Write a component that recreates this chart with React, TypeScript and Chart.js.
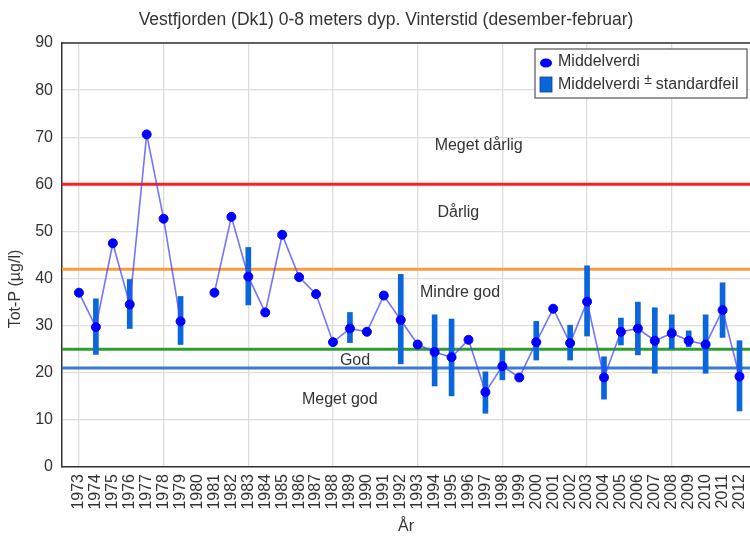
import { useEffect, useRef } from "react";
import { Chart, registerables } from "chart.js";

Chart.register(...registerables);

const FONT = "'Liberation Sans', Arial, Helvetica, sans-serif";

const chartTitle = "Vestfjorden (Dk1) 0-8 meters dyp. Vinterstid (desember-februar)";
const yTitle = "Tot-P (µg/l)";
const xTitle = "År";

const years = [
  1973, 1974, 1975, 1976, 1977, 1978, 1979, 1980, 1981, 1982,
  1983, 1984, 1985, 1986, 1987, 1988, 1989, 1990, 1991, 1992,
  1993, 1994, 1995, 1996, 1997, 1998, 1999, 2000, 2001, 2002,
  2003, 2004, 2005, 2006, 2007, 2008, 2009, 2010, 2011, 2012,
];

const means: (number | null)[] = [
  37.0, 29.7, 47.5, 34.5, 70.6, 52.7, 30.9, null, 37.0, 53.1,
  40.4, 32.8, 49.3, 40.3, 36.7, 26.5, 29.4, 28.7, 36.4, 31.2,
  26.0, 24.4, 23.3, 27.0, 15.9, 21.4, 19.0, 26.5, 33.6, 26.3,
  35.1, 19.0, 28.7, 29.4, 26.8, 28.4, 26.8, 26.0, 33.3, 19.2,
];

const seLow: (number | null)[] = [
  null, 23.9, null, 29.4, null, null, 26.0, null, null, null,
  34.4, null, null, null, null, null, 26.4, null, null, 21.9,
  null, 17.2, 15.1, null, 11.4, 18.5, null, 22.7, null, 22.7,
  27.8, 14.4, 25.9, 23.8, 19.9, 25.1, 25.5, 19.9, 27.5, 11.9,
];

const seHigh: (number | null)[] = [
  null, 35.7, null, 39.8, null, null, 36.2, null, null, null,
  46.6, null, null, null, null, null, 32.8, null, null, 40.9,
  null, 32.3, 31.4, null, 20.2, 24.8, null, 30.9, null, 30.1,
  42.7, 23.4, 31.6, 35.0, 33.8, 32.3, 28.9, 32.3, 39.1, 26.8,
];

const yTicks = [0, 10, 20, 30, 40, 50, 60, 70, 80, 90];

// class limits (Tot-P µg/l)
const limitValues = [60, 42, 25, 21];
const limitColors = ["#ff1e1e", "#ff9a3c", "#2f9e2f", "#3a7bd0"];

// class names with anchor (year, value) in data units
const classNames = ["Meget dårlig", "Dårlig", "Mindre god", "God", "Meget god"];
const classAnchorX = [1996.6, 1995.4, 1995.5, 1989.3, 1988.4];
const classAnchorY = [68.2, 54.1, 37.0, 22.5, 14.4];

const legendLabels = ["Middelverdi", "Middelverdi", "±", "standardfeil"];

const X_MIN = 1972;
const X_MAX = 2012.62;

const MARK_BLUE = "#0000ff";
const BAR_BLUE = "#0a66dd";
const TEXT = "#333333";

export default function App() {
  const ref = useRef<HTMLCanvasElement | null>(null);

  useEffect(() => {
    document.body.style.margin = "0";
    document.body.style.overflow = "hidden";
    const canvas = ref.current;
    if (!canvas) return;

    const lineData = years.map((yr, i) => ({ x: yr, y: means[i] }));
    const barData = years
      .map((yr, i) =>
        seLow[i] == null || seHigh[i] == null ? null : { x: yr, y: [seLow[i], seHigh[i]] }
      )
      .filter((d) => d !== null);

    const limitSets = limitValues.map((v, i) => ({
      type: "line" as const,
      label: "limit" + i,
      data: [
        { x: X_MIN, y: v },
        { x: X_MAX, y: v },
      ],
      borderColor: limitColors[i],
      borderWidth: 3,
      pointRadius: 0,
      order: 3,
    }));

    const decor = {
      id: "decor",
      afterDatasetsDraw(chart: any) {
        const ctx = chart.ctx as CanvasRenderingContext2D;
        const xs = chart.scales.x;
        const ys = chart.scales.y;
        ctx.save();
        ctx.fillStyle = TEXT;
        ctx.font = `16px ${FONT}`;
        ctx.textAlign = "center";
        ctx.textBaseline = "middle";
        classNames.forEach((n, i) => {
          ctx.fillText(n, xs.getPixelForValue(classAnchorX[i]), ys.getPixelForValue(classAnchorY[i]));
        });
        ctx.restore();
      },
      afterDraw(chart: any) {
        const ctx = chart.ctx as CanvasRenderingContext2D;
        const area = chart.chartArea;
        ctx.save();
        // top frame
        ctx.strokeStyle = "#333";
        ctx.lineWidth = 1.5;
        ctx.beginPath();
        ctx.moveTo(area.left, area.top);
        ctx.lineTo(area.right, area.top);
        ctx.stroke();

        // title
        ctx.fillStyle = TEXT;
        ctx.font = `17.5px ${FONT}`;
        ctx.textAlign = "center";
        ctx.textBaseline = "middle";
        ctx.fillText(chartTitle, 386, 20);

        // y-axis title
        ctx.save();
        ctx.translate(16, 289);
        ctx.rotate(-Math.PI / 2);
        ctx.font = `16px ${FONT}`;
        ctx.fillText(yTitle, 0, 0);
        ctx.restore();

        // legend
        const bx = 535, by = 49, bw = 212, bh = 49;
        ctx.fillStyle = "#ffffff";
        ctx.fillRect(bx, by, bw, bh);
        ctx.strokeStyle = "#555";
        ctx.lineWidth = 1.2;
        ctx.strokeRect(bx, by, bw, bh);

        ctx.fillStyle = MARK_BLUE;
        ctx.beginPath();
        ctx.ellipse(546, 63, 6, 4.5, 0, 0, Math.PI * 2);
        ctx.fill();

        ctx.fillStyle = BAR_BLUE;
        ctx.fillRect(540, 77, 12, 15);
        ctx.strokeStyle = "#1a3f80";
        ctx.lineWidth = 0.8;
        ctx.strokeRect(540, 77, 12, 15);

        ctx.fillStyle = TEXT;
        ctx.textAlign = "left";
        ctx.textBaseline = "middle";
        ctx.font = `16px ${FONT}`;
        ctx.fillText(legendLabels[0], 558, 62);
        ctx.fillText(legendLabels[1], 558, 85);
        let tx = 558 + ctx.measureText(legendLabels[1] + " ").width;
        ctx.font = `14px ${FONT}`;
        ctx.fillText(legendLabels[2], tx, 80);
        tx += ctx.measureText(legendLabels[2] + " ").width;
        ctx.font = `16px ${FONT}`;
        ctx.fillText(legendLabels[3], tx, 85);
        ctx.restore();
      },
    };

    const chart = new Chart(canvas, {
      type: "line",
      data: {
        datasets: [
          {
            type: "line",
            label: "Middelverdi",
            data: lineData as any,
            borderColor: "rgba(70,70,255,0.75)",
            borderWidth: 1.6,
            pointRadius: 4.5,
            pointBackgroundColor: MARK_BLUE,
            pointBorderColor: MARK_BLUE,
            pointBorderWidth: 1,
            spanGaps: false,
            order: 1,
          },
          {
            type: "bar",
            label: "Middelverdi ± standardfeil",
            data: barData as any,
            backgroundColor: BAR_BLUE,
            borderWidth: 0,
            barThickness: 5,
            order: 2,
          } as any,
          ...limitSets,
        ],
      },
      options: {
        responsive: false,
        animation: false,
        events: [],
        layout: { autoPadding: false, padding: { top: 43, left: 0, right: 0, bottom: 0 } },
        plugins: {
          legend: { display: false },
          title: { display: false },
          tooltip: { enabled: false },
        },
        scales: {
          x: {
            type: "linear",
            min: X_MIN,
            max: X_MAX,
            offset: false,
            afterBuildTicks: (s: any) => {
              s.ticks = years.map((v) => ({ value: v }));
            },
            afterFit: (s: any) => {
              s.height = 69;
              s.paddingLeft = 0;
              s.paddingRight = 0;
            },
            ticks: {
              autoSkip: false,
              maxRotation: 90,
              minRotation: 90,
              padding: 7,
              color: TEXT,
              font: { family: FONT, size: 16 },
              callback: (v: any) => String(v),
            },
            grid: {
              drawTicks: false,
              offset: false,
              lineWidth: 1.3,
              color: (c: any) =>
                c.tick && (c.tick.value - 1973) % 5 === 0 ? "#dddddd" : "rgba(0,0,0,0)",
            },
            border: { display: true, color: "#333", width: 1.5 },
            title: {
              display: true,
              text: xTitle,
              color: TEXT,
              font: { family: FONT, size: 16 },
              padding: { top: 0, bottom: 0 },
            },
          },
          y: {
            min: 0,
            max: 90,
            afterBuildTicks: (s: any) => {
              s.ticks = yTicks.map((v) => ({ value: v }));
            },
            afterFit: (s: any) => {
              s.width = 62;
              s.paddingTop = 0;
              s.paddingBottom = 0;
            },
            ticks: {
              padding: 9,
              color: TEXT,
              font: { family: FONT, size: 16 },
            },
            grid: {
              drawTicks: false,
              lineWidth: 1.3,
              color: "#dddddd",
            },
            border: { display: true, color: "#333", width: 1.5 },
            title: { display: false },
          },
        },
      },
      plugins: [decor],
    } as any);

    return () => chart.destroy();
  }, []);

  return (
    <div style={{ width: 750, height: 536 }}>
      <canvas ref={ref} width={750} height={536} style={{ display: "block" }} />
    </div>
  );
}
